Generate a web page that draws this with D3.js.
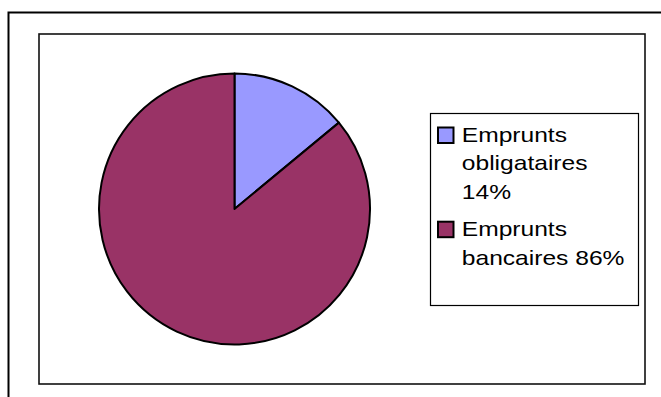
<!DOCTYPE html>
<html>
<head>
<meta charset="utf-8">
<script src="https://cdn.jsdelivr.net/npm/d3@7"></script>
<style>
  body { margin: 0; background: #fff; }
  svg { display: block; }
</style>
</head>
<body>
<script>
// chart data
var categories = ["Emprunts obligataires", "Emprunts bancaires"];
var values = [14, 86];
var colors = ["#9999FF", "#993366"];

var w = 661, h = 397;

var svg = d3.select("body")
    .append("svg")
    .attr("width", w)
    .attr("height", h);

// outer chart border (cropped at right and bottom)
svg.append("rect")
    .attr("x", 8.5).attr("y", 12.5)
    .attr("width", 700).attr("height", 500)
    .attr("fill", "#fff")
    .attr("stroke", "#000")
    .attr("stroke-width", 2);

// plot area
svg.append("rect")
    .attr("x", 39).attr("y", 34)
    .attr("width", 606).attr("height", 350)
    .attr("fill", "#fff")
    .attr("stroke", "#111")
    .attr("stroke-width", 1.6);

// pie
var cx = 234.5, cy = 209, r = 135.5;

var pie = d3.pie().sort(null).value(function(d) { return d; });
var arc = d3.arc().innerRadius(0).outerRadius(r);

svg.append("g")
    .attr("transform", "translate(" + cx + "," + cy + ")")
    .selectAll("path")
    .data(pie(values))
    .enter()
    .append("path")
    .attr("d", arc)
    .attr("fill", function(d, i) { return colors[i]; })
    .attr("stroke", "#000")
    .attr("stroke-width", 2)
    .attr("stroke-linejoin", "round");

// legend
var legend = svg.append("g");
legend.append("rect")
    .attr("x", 430.5).attr("y", 113.5)
    .attr("width", 208).attr("height", 192)
    .attr("fill", "#fff")
    .attr("stroke", "#000")
    .attr("stroke-width", 1.2);

// the reference text is drawn wide, so stretch it horizontally
var fontSize = 20.5, stretch = 1.2, lineH = 28.7, maxW = 170;
var tx = 461.8;
var entryY = [141.7, 235.9];

categories.forEach(function(c, i) {
    var label = c + " " + values[i] + "%";
    legend.append("rect")
        .attr("x", 438).attr("y", entryY[i] - 14.2)
        .attr("width", 15.5).attr("height", 15.5)
        .attr("fill", colors[i])
        .attr("stroke", "#000")
        .attr("stroke-width", 2);

    var text = legend.append("text")
        .attr("transform", "translate(" + tx + ",0) scale(" + stretch + ",1)")
        .attr("x", 0).attr("y", entryY[i])
        .attr("font-family", "Liberation Sans, Arial, sans-serif")
        .attr("font-size", fontSize)
        .attr("fill", "#000");

    // wrap words into lines
    var words = label.split(" ");
    var line = [];
    var lineNo = 0;
    var tspan = text.append("tspan").attr("x", 0).attr("y", entryY[i]);
    words.forEach(function(word) {
        line.push(word);
        tspan.text(line.join(" "));
        if (tspan.node().getComputedTextLength() * stretch > maxW && line.length > 1) {
            line.pop();
            tspan.text(line.join(" "));
            line = [word];
            lineNo++;
            tspan = text.append("tspan")
                .attr("x", 0)
                .attr("y", entryY[i] + lineNo * lineH)
                .text(word);
        }
    });
});
</script>
</body>
</html>
